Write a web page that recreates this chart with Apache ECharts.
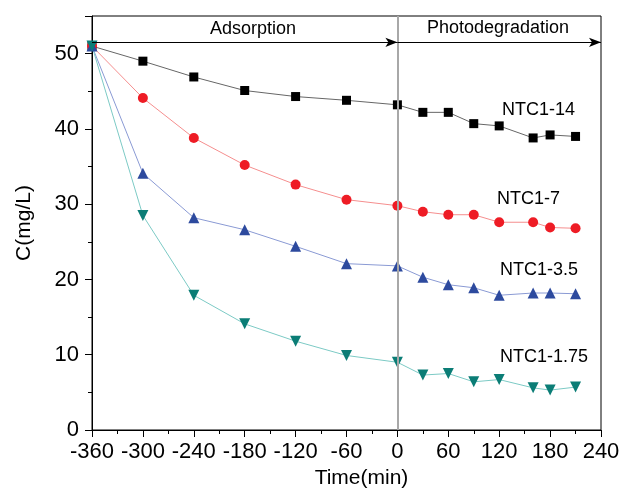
<!DOCTYPE html>
<html>
<head>
<meta charset="utf-8">
<script src="https://cdn.jsdelivr.net/npm/echarts@6/dist/echarts.min.js"></script>
<style>
  html, body { margin: 0; padding: 0; background: #fff; }
  #chart { width: 623px; height: 490px; }
</style>
</head>
<body>
<div id="chart"></div>
<script>
// time points (min)
var timeArr = [-360, -300, -240, -180, -120, -60, 0, 30, 60, 90, 120, 160, 180, 210];
// concentrations C (mg/L)
var ntc14 = [51.0, 49.0, 46.9, 45.1, 44.3, 43.8, 43.2, 42.2, 42.2, 40.7, 40.4, 38.8, 39.2, 39.0];
var ntc7 = [51.0, 44.1, 38.8, 35.2, 32.6, 30.6, 29.8, 29.0, 28.6, 28.6, 27.6, 27.6, 26.9, 26.8];
var ntc35 = [51.0, 34.1, 28.2, 26.6, 24.4, 22.1, 21.8, 20.3, 19.3, 18.9, 17.9, 18.2, 18.2, 18.1];
var ntc175 = [51.0, 28.5, 17.9, 14.1, 11.8, 9.9, 9.0, 7.3, 7.5, 6.4, 6.7, 5.6, 5.3, 5.7];
var seriesNames = ["NTC1-14", "NTC1-7", "NTC1-3.5", "NTC1-1.75"];
var stageNames = ["Adsorption", "Photodegradation"];
var arrowLevel = 51.5;

function pairs(vals) {
  return timeArr.map(function (t, i) { return [t, vals[i]]; });
}

var font = "'Liberation Sans', Arial, sans-serif";
var myChart = echarts.init(document.getElementById("chart"));
myChart.setOption({
  animation: false,
  grid: {
    left: 92,
    right: 22,
    top: 16,
    bottom: 60,
    outerBoundsMode: "none",
    show: true,
    borderColor: "#000",
    borderWidth: 1
  },
  xAxis: {
    type: "value",
    min: -360,
    max: 240,
    interval: 60,
    name: "Time(min)",
    nameLocation: "middle",
    nameGap: 36,
    nameTextStyle: { fontSize: 21, color: "#000", fontFamily: font, padding: [0, 0, 0, 30] },
    axisLine: { onZero: false, lineStyle: { color: "#000", width: 1 } },
    axisTick: { length: 7, lineStyle: { color: "#000" } },
    minorTick: { show: true, splitNumber: 2, length: 4, lineStyle: { color: "#000" } },
    splitLine: { show: false },
    axisLabel: { fontSize: 22, color: "#000", fontFamily: font, margin: 11 }
  },
  yAxis: {
    type: "value",
    min: 0,
    max: 55,
    interval: 10,
    name: "C(mg/L)",
    nameLocation: "middle",
    nameGap: 57,
    nameTextStyle: { fontSize: 21, color: "#000", fontFamily: font },
    axisLine: { onZero: false, lineStyle: { color: "#000", width: 1 } },
    axisTick: { length: 7, lineStyle: { color: "#000" } },
    minorTick: { show: true, splitNumber: 2, length: 4, lineStyle: { color: "#000" } },
    splitLine: { show: false },
    axisLabel: {
      fontSize: 22, color: "#000", fontFamily: font, margin: 13, showMaxLabel: false,
      formatter: function (v) { return v % 10 === 0 ? v : ""; }
    }
  },
  graphic: [
    { type: "text", left: 502, top: 101, style: { text: seriesNames[0], fontSize: 18, fontFamily: font, fill: "#000" } },
    { type: "text", left: 497, top: 190, style: { text: seriesNames[1], fontSize: 18, fontFamily: font, fill: "#000" } },
    { type: "text", left: 500, top: 261, style: { text: seriesNames[2], fontSize: 18, fontFamily: font, fill: "#000" } },
    { type: "text", left: 500, top: 348, style: { text: seriesNames[3], fontSize: 18, fontFamily: font, fill: "#000" } },
    { type: "text", left: 210, top: 20, style: { text: stageNames[0], fontSize: 18, fontFamily: font, fill: "#000" } },
    { type: "text", left: 427, top: 19, style: { text: stageNames[1], fontSize: 18, fontFamily: font, fill: "#000" } }
  ],
  series: [
    {
      name: "divider",
      type: "line",
      data: [],
      z: 1,
      markLine: {
        silent: true,
        symbol: "none",
        label: { show: false },
        data: [{ xAxis: 0 }],
        lineStyle: { color: "#a8a8a8", width: 2, type: "solid", opacity: 1 }
      }
    },
    {
      name: seriesNames[0],
      type: "line",
      data: pairs(ntc14),
      symbol: "rect",
      symbolSize: 9,
      itemStyle: { color: "#000" },
      lineStyle: { color: "#666", width: 1 },
      markLine: {
        silent: true,
        label: { show: false },
        data: [
          [
            { coord: [-360, arrowLevel], symbol: "none" },
            { coord: [0, arrowLevel], symbol: "arrow", symbolSize: [7, 12] }
          ],
          [
            { coord: [0, arrowLevel], symbol: "none" },
            { coord: [240, arrowLevel], symbol: "arrow", symbolSize: [7, 12] }
          ]
        ],
        lineStyle: { color: "#000", width: 1, type: "solid" }
      }
    },
    {
      name: seriesNames[1],
      type: "line",
      data: pairs(ntc7),
      symbol: "circle",
      symbolSize: 10,
      itemStyle: { color: "#ee1c25" },
      lineStyle: { color: "#f58e8e", width: 1 }
    },
    {
      name: seriesNames[2],
      type: "line",
      data: pairs(ntc35),
      symbol: "triangle",
      symbolSize: 11,
      itemStyle: { color: "#2d4a9e" },
      lineStyle: { color: "#8a9ad4", width: 1 }
    },
    {
      name: seriesNames[3],
      type: "line",
      data: pairs(ntc175),
      symbol: "triangle",
      symbolRotate: 180,
      symbolSize: 11,
      itemStyle: { color: "#0b7d76" },
      lineStyle: { color: "#7ccac5", width: 1 }
    }
  ]
});
</script>
</body>
</html>
